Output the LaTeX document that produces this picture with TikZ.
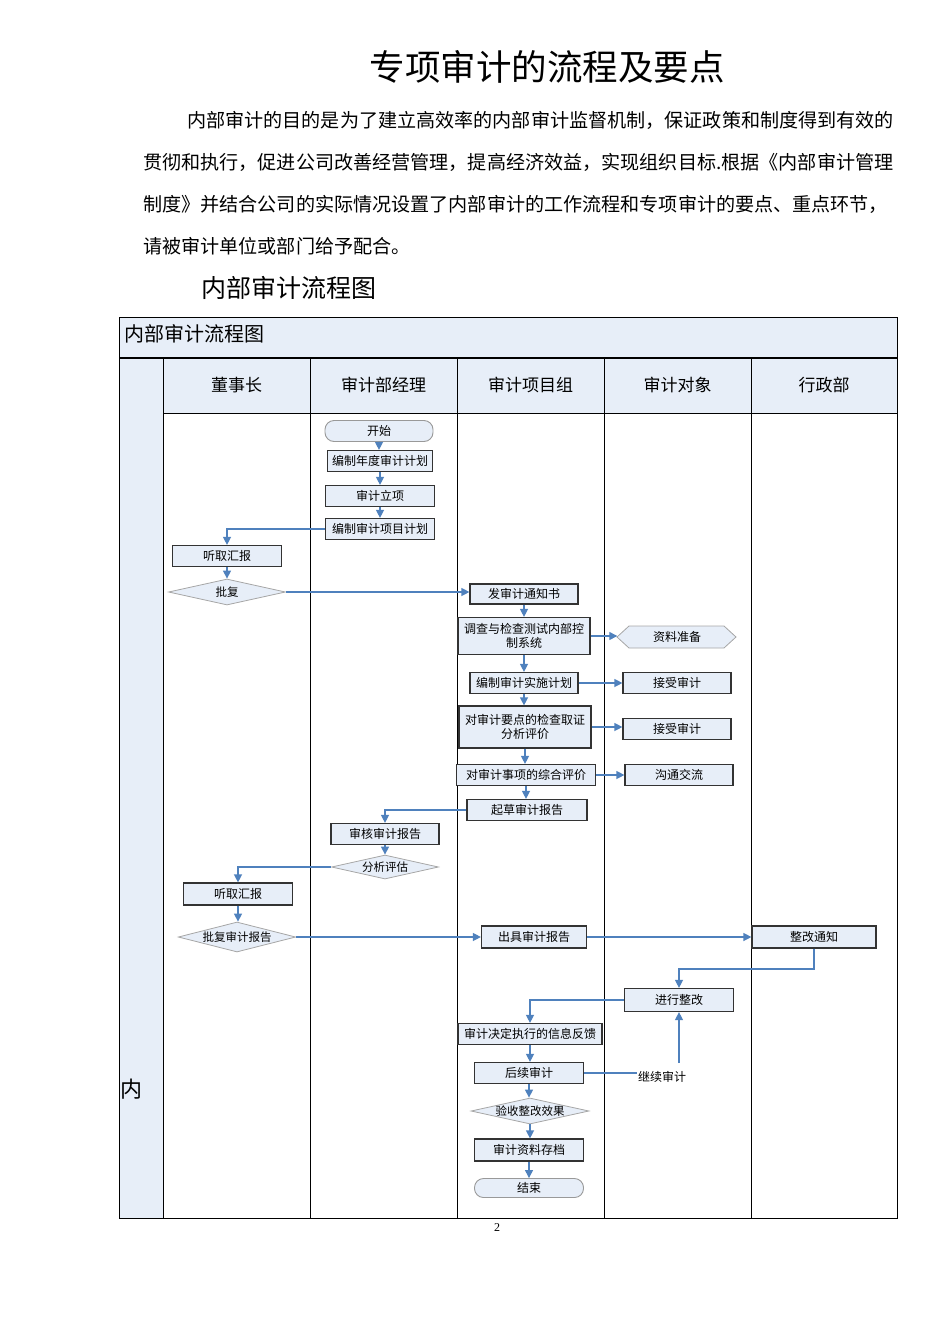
\documentclass[tikz,border=0pt]{standalone}
\usepackage{fontspec}
\setmainfont{Liberation Serif}
\newfontfamily\cjk{Noto Sans CJK SC}
\usetikzlibrary{arrows.meta,shapes.geometric}
\definecolor{lb}{HTML}{E7EEF8}
\definecolor{ab}{HTML}{4F81BD}
\definecolor{bd}{HTML}{333333}
\begin{document}
\begin{tikzpicture}[x=1pt,y=-1pt,
  box/.style={draw=bd,line width=1.2pt,fill=lb,inner sep=0pt,minimum height=21pt,
    font=\cjk\fontsize{12}{14}\selectfont,align=center},
  rbox/.style={box,draw=gray!80,line width=0.9pt,rounded corners=9pt},
  dia/.style={diamond,aspect=4.5,inner sep=0pt,draw=gray!70,line width=0.8pt,fill=lb,
    font=\cjk\fontsize{11.5}{13.5}\selectfont},
  lab/.style={font=\cjk\fontsize{12}{14}\selectfont,inner sep=1pt},
  hd/.style={font=\cjk\fontsize{17}{19}\selectfont,inner sep=0pt},
  para/.style={anchor=west,inner sep=0pt,font=\cjk\fontsize{19.1}{21}\selectfont},
  ar/.style={draw=ab,line width=1.3pt,-{Triangle[length=8pt,width=8pt]}},
  ln/.style={draw=ab,line width=1.3pt}]
\useasboundingbox (0,0) rectangle (950,1344);

% ---------- text above the chart ----------
\node[font=\cjk\fontsize{35.5}{37}\selectfont,inner sep=0pt] (title) at (547,67) {专项审计的流程及要点};
\node[para] (p1) at (187,120) {内部审计的目的是为了建立高效率的内部审计监督机制，保证政策和制度得到有效的};
\node[para] (p2) at (143,162) {贯彻和执行，促进公司改善经营管理，提高经济效益，实现组织目标.根据《内部审计管理};
\node[para] (p3) at (143,204) {制度》并结合公司的实际情况设置了内部审计的工作流程和专项审计的要点、重点环节，};
\node[para] (p4) at (143,246) {请被审计单位或部门给予配合。};
\node[font=\cjk\fontsize{25}{27}\selectfont,inner sep=0pt] (sub) at (289,288) {内部审计流程图};

% ---------- table ----------
\fill[lb] (119,317) rectangle (897,358);
\fill[lb] (119,358) rectangle (163,1218);
\fill[lb] (163,358) rectangle (897,413);
\draw[line width=1pt] (119,317) rectangle (897,1218);
\draw[line width=2.6pt] (119,358) -- (897,358);
\foreach \xx in {163,310,457,604,751} \draw[line width=1pt] (\xx,358) -- (\xx,1218);
\draw[line width=1pt] (163,413) -- (897,413);
\node[anchor=west,font=\cjk\fontsize{20}{22}\selectfont,inner sep=0pt] (tt) at (124,334) {内部审计流程图};
\node[hd] (h1) at (236.5,385) {董事长};
\node[hd] (h2) at (383.5,385) {审计部经理};
\node[hd] (h3) at (530.5,385) {审计项目组};
\node[hd] (h4) at (677.5,385) {审计对象};
\node[hd] (h5) at (824,385) {行政部};
\node[font=\cjk\fontsize{22}{24}\selectfont,inner sep=0pt] (nei) at (131,1089) {内};
\node[font=\fontsize{12}{14}\selectfont,inner sep=0pt] (pg) at (497,1228) {2};

% ---------- nodes ----------
\node[rbox,minimum width=108pt] (ks) at (379,431) {开始};
\node[box,minimum width=105pt] (n1) at (380,461) {编制年度审计计划};
\node[box,minimum width=109pt] (n2) at (380,496) {审计立项};
\node[box,minimum width=109pt] (n3) at (380,529) {编制审计项目计划};
\node[box,minimum width=109pt] (l1) at (227,556) {听取汇报};
\node[dia,minimum width=117pt,minimum height=26pt] (pf) at (227,592) {批复};

\node[box,minimum width=108pt,minimum height=20pt] (tz) at (524,594) {发审计通知书};
\node[box,minimum width=132pt,minimum height=37pt] (dc) at (524,636) {调查与检查测试内部控\\制系统};
\node[box,minimum width=108pt] (ss) at (524,683) {编制审计实施计划};
\node[box,minimum width=132pt,minimum height=42pt] (yd) at (525,727) {对审计要点的检查取证\\分析评价};
\node[box,minimum width=139pt] (zh) at (526,775) {对审计事项的综合评价};
\node[box,minimum width=120pt] (qc) at (527,810) {起草审计报告};

\filldraw[fill=lb,draw=gray!70,line width=0.8pt] (617,637) -- (629,626) -- (724,626) -- (736,637) -- (724,648) -- (629,648) -- cycle;
\node[lab,minimum width=119pt,minimum height=22pt,inner sep=0pt] (zl) at (677,637) {资料准备};
\node[box,minimum width=108pt] (js1) at (677,683) {接受审计};
\node[box,minimum width=108pt] (js2) at (677,729) {接受审计};
\node[box,minimum width=108pt] (gt) at (679,775) {沟通交流};

\node[box,minimum width=108pt] (sh) at (385,834) {审核审计报告};
\node[dia,minimum width=107pt,minimum height=24pt] (fx) at (385,867) {分析评估};
\node[box,minimum width=109pt,minimum height=22pt] (l2) at (238,894) {听取汇报};
\node[dia,minimum width=116pt,minimum height=30pt] (pf2) at (237,937) {批复审计报告};
\node[box,minimum width=105pt,minimum height=22pt] (cj) at (534,937) {出具审计报告};
\node[box,minimum width=124pt,minimum height=22pt] (zt) at (814,937) {整改通知};
\node[box,minimum width=109pt,minimum height=23pt] (jx) at (679,1000) {进行整改};
\node[box,minimum width=144pt] (fk) at (530,1034) {审计决定执行的信息反馈};
\node[box,minimum width=109pt] (hx) at (529,1073) {后续审计};
\node[dia,minimum width=118pt,minimum height=23pt] (ys) at (530,1111) {验收整改效果};
\node[box,minimum width=109pt,minimum height=22pt] (cd) at (529,1150) {审计资料存档};
\node[rbox,minimum width=109pt,minimum height=19pt] (jsu) at (529,1188) {结束};
\node[lab] (jxsj) at (662,1077) {继续审计};

\coordinate (c969) at (0,969);
\coordinate (cup) at (679,1063);

% ---------- connectors ----------
\draw[ar] (ks.south) -- (ks.south |- n1.north);
\draw[ar] (n1.south) -- (n1.south |- n2.north);
\draw[ar] (n2.south) -- (n2.south |- n3.north);
\draw[ar] (n3.west) -| (l1.north);
\draw[ar] (l1.south) -- (pf.north);
\draw[ar] (pf.east) -- (pf.east -| tz.west);
\draw[ar] (tz.south) -- (tz.south |- dc.north);
\draw[ar] (dc.east) -- (dc.east -| zl.west);
\draw[ar] (dc.south) -- (dc.south |- ss.north);
\draw[ar] (ss.east) -- (ss.east -| js1.west);
\draw[ar] (ss.south) -- (ss.south |- yd.north);
\draw[ar] (yd.east) -- (yd.east -| js2.west);
\draw[ar] (yd.south) -- (yd.south |- zh.north);
\draw[ar] (zh.east) -- (zh.east -| gt.west);
\draw[ar] (zh.south) -- (zh.south |- qc.north);
\draw[ar] (qc.west) -| (sh.north);
\draw[ar] (sh.south) -- (fx.north);
\draw[ar] (fx.west) -| (l2.north);
\draw[ar] (l2.south) -- (l2.south |- pf2.north);
\draw[ar] (pf2.east) -- (pf2.east -| cj.west);
\draw[ar] (cj.east) -- (cj.east -| zt.west);
\draw[ar] (zt.south) -- (zt.south |- c969) -| (jx.north);
\draw[ar] (jx.west) -| (fk.north);
\draw[ar] (fk.south) -- (fk.south |- hx.north);
\draw[ar] (hx.south) -- (hx.south |- ys.north);
\draw[ar] (ys.south) -- (ys.south |- cd.north);
\draw[ar] (cd.south) -- (cd.south |- jsu.north);
\draw[ln] (hx.east) -- (hx.east -| jxsj.west);
\draw[ar] (cup) -- (cup |- jx.south);
\end{tikzpicture}
\end{document}
